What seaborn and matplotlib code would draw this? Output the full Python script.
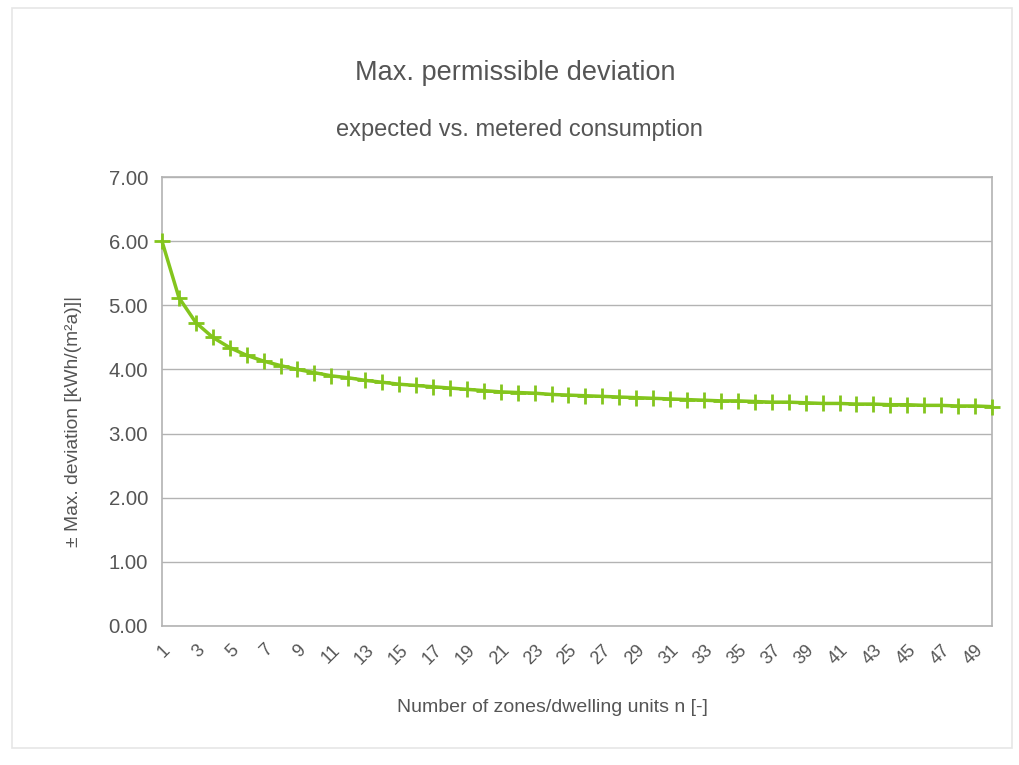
import matplotlib
matplotlib.use("Agg")
import matplotlib.pyplot as plt
import seaborn as sns
import pandas as pd
from matplotlib.patches import Rectangle

# Values
n_units = list(range(1, 51))
max_dev = [6.00, 5.12, 4.73, 4.50, 4.34, 4.22, 4.13, 4.06, 4.00, 3.95,
           3.90, 3.87, 3.83, 3.80, 3.77, 3.75, 3.73, 3.71, 3.69, 3.67,
           3.65, 3.64, 3.63, 3.61, 3.60, 3.59, 3.58, 3.57, 3.56, 3.55,
           3.54, 3.53, 3.52, 3.51, 3.51, 3.50, 3.49, 3.49, 3.48, 3.47,
           3.47, 3.46, 3.46, 3.45, 3.45, 3.44, 3.44, 3.43, 3.43, 3.42]
y_ticks = [0, 1, 2, 3, 4, 5, 6, 7]

df = pd.DataFrame({"n": n_units, "dev": max_dev})

sns.set_style("white")
plt.rcParams["font.family"] = ["Liberation Sans", "DejaVu Sans"]

text_col = "#555555"
grid_col = "#b3b3b3"
line_col = "#83c51d"

fig = plt.figure(figsize=(10.2, 7.65), dpi=100)
ax = fig.add_axes([0.1588, 0.1817, 0.8137, 0.5869])

# card frame around the chart
fig.patches.append(Rectangle((0.012, 0.022), 0.98, 0.968, transform=fig.transFigure,
                             fill=False, edgecolor="#e6e6e6", linewidth=1.2))

sns.lineplot(data=df, x="n", y="dev", ax=ax, color=line_col, linewidth=2.5,
             marker="+", markersize=11, markeredgewidth=2.0, markeredgecolor=line_col,
             clip_on=False, zorder=5)

ax.set_xlim(1, 50)
ax.set_ylim(0, 7)
ax.set_yticks(y_ticks)
ax.set_yticklabels([f"{v:.2f}" for v in y_ticks], fontsize=14.7, color=text_col)
ax.set_xticks(n_units)
ax.set_xticklabels([str(v) if v % 2 == 1 else "" for v in n_units],
                   rotation=45, ha="right", rotation_mode="anchor",
                   fontsize=13, color=text_col)

ax.grid(axis="y", color=grid_col, linewidth=1)
for s in ax.spines.values():
    s.set_color(grid_col)
    s.set_linewidth(1.2)
ax.tick_params(axis="both", direction="out", length=6, color=grid_col, width=1.2)
ax.tick_params(axis="x", pad=5)
ax.tick_params(axis="y", pad=4)

ax.set_xlabel("Number of zones/dwelling units n [-]", fontsize=14, color=text_col)
ax.xaxis.set_label_coords(0.47, -0.162)
ax.set_ylabel("± Max. deviation [kWh/(m²a)]|", fontsize=13.9, color=text_col)
ax.yaxis.set_label_coords(-0.096, 0.455)

fig.text(0.505, 0.904, "Max. permissible deviation", ha="center", va="center",
         fontsize=19.5, color=text_col)
fig.text(0.509, 0.830, "expected vs. metered consumption", ha="center", va="center",
         fontsize=17, color=text_col)

fig.savefig("out.png", dpi=100)
